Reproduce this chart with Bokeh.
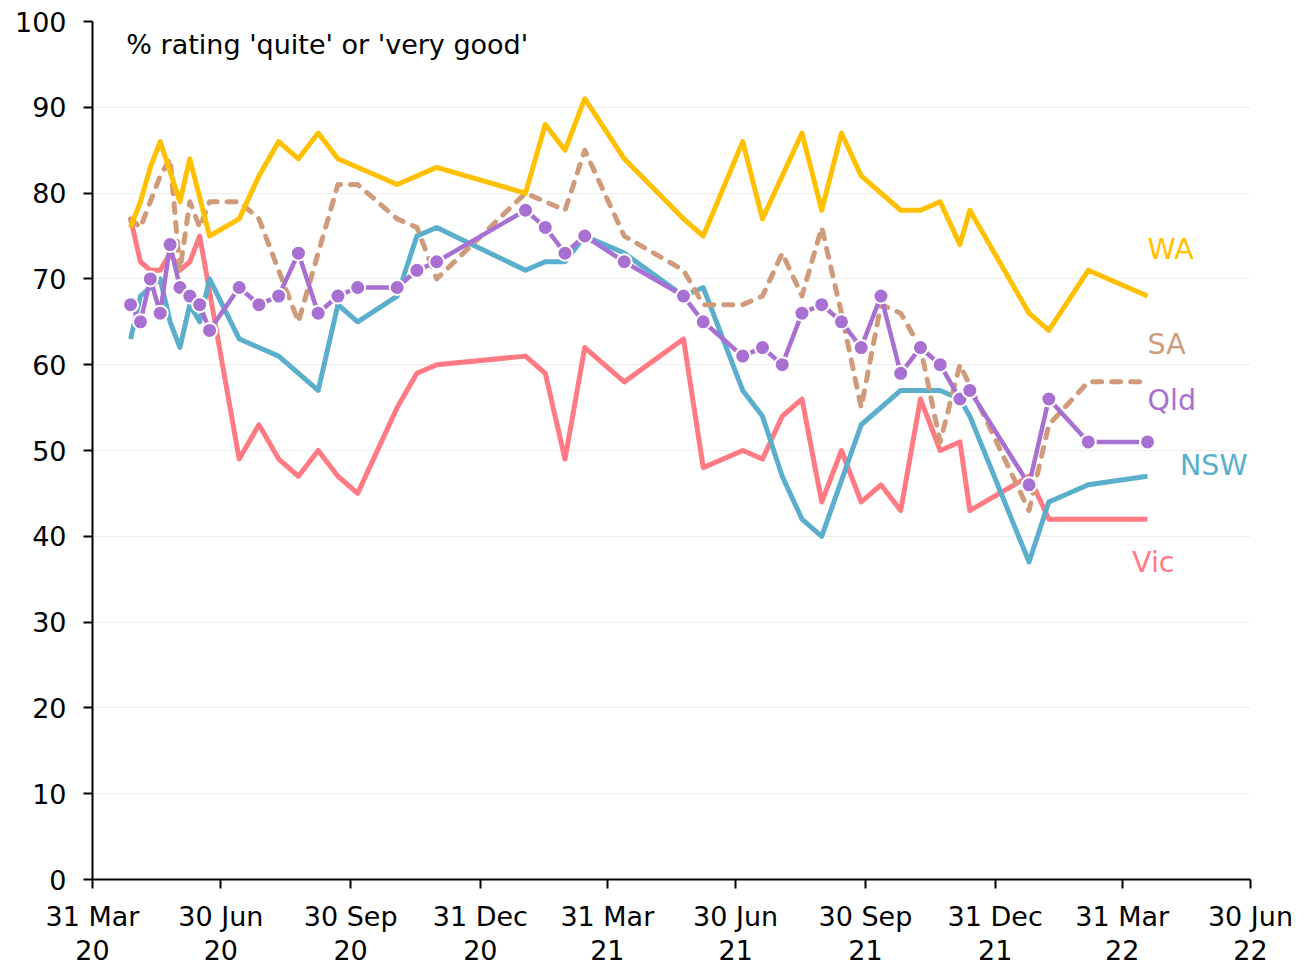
import pandas as pd
from bokeh.plotting import figure
from bokeh.models import FixedTicker, Label, Range1d
from bokeh.embed import file_html
from bokeh.resources import INLINE

FONT = "DejaVu Sans"
ORIGIN = pd.Timestamp("2020-03-31")

tick_dates = ["2020-03-31", "2020-06-30", "2020-09-30", "2020-12-31", "2021-03-31",
              "2021-06-30", "2021-09-30", "2021-12-31", "2022-03-31", "2022-06-30"]
tick_labels = ["31 Mar\n20", "30 Jun\n20", "30 Sep\n20", "31 Dec\n20", "31 Mar\n21",
               "30 Jun\n21", "30 Sep\n21", "31 Dec\n21", "31 Mar\n22", "30 Jun\n22"]

wa_dates = ["2020-04-27", "2020-05-04", "2020-05-11", "2020-05-18", "2020-06-01", "2020-06-08",
            "2020-06-22", "2020-07-13", "2020-07-27", "2020-08-10", "2020-08-24", "2020-09-07",
            "2020-09-21", "2020-11-02", "2020-11-30", "2021-02-01", "2021-02-15", "2021-03-01",
            "2021-03-15", "2021-04-12", "2021-05-24", "2021-06-07", "2021-07-05", "2021-07-19",
            "2021-08-16", "2021-08-30", "2021-09-13", "2021-09-27", "2021-10-25", "2021-11-08",
            "2021-11-22", "2021-12-06", "2021-12-13", "2022-01-24", "2022-02-07", "2022-03-07",
            "2022-04-18"]
wa_vals = [76, 79, 83, 86, 79, 84, 75, 77, 82, 86, 84, 87, 84, 81, 83, 80, 88, 85, 91, 84, 77,
           75, 86, 77, 87, 78, 87, 82, 78, 78, 79, 74, 78, 66, 64, 71, 68]

sa_dates = ["2020-04-27", "2020-05-04", "2020-05-11", "2020-05-18", "2020-05-25", "2020-06-01",
            "2020-06-08", "2020-06-15", "2020-06-22", "2020-07-13", "2020-07-27", "2020-08-10",
            "2020-08-24", "2020-09-07", "2020-09-21", "2020-10-05", "2020-11-02", "2020-11-16",
            "2020-11-30", "2021-02-01", "2021-02-15", "2021-03-01", "2021-03-15", "2021-04-12",
            "2021-05-24", "2021-06-07", "2021-07-05", "2021-07-19", "2021-08-02", "2021-08-16",
            "2021-08-30", "2021-09-13", "2021-09-27", "2021-10-11", "2021-10-25", "2021-11-08",
            "2021-11-22", "2021-12-06", "2022-01-24", "2022-02-07", "2022-03-07", "2022-04-18"]
sa_vals = [77, 76, 79, 82, 84, 71, 79, 76, 79, 79, 77, 71, 65, 73, 81, 81, 77, 76, 70, 80, 79,
           78, 85, 75, 71, 67, 67, 68, 73, 68, 76, 66, 55, 67, 66, 62, 51, 60, 43, 53, 58, 58]

qld_dates = ["2020-04-27", "2020-05-04", "2020-05-11", "2020-05-18", "2020-05-25", "2020-06-01",
             "2020-06-08", "2020-06-15", "2020-06-22", "2020-07-13", "2020-07-27", "2020-08-10",
             "2020-08-24", "2020-09-07", "2020-09-21", "2020-10-05", "2020-11-02", "2020-11-16",
             "2020-11-30", "2021-02-01", "2021-02-15", "2021-03-01", "2021-03-15", "2021-04-12",
             "2021-05-24", "2021-06-07", "2021-07-05", "2021-07-19", "2021-08-02", "2021-08-16",
             "2021-08-30", "2021-09-13", "2021-09-27", "2021-10-11", "2021-10-25", "2021-11-08",
             "2021-11-22", "2021-12-06", "2021-12-13", "2022-01-24", "2022-02-07", "2022-03-07",
             "2022-04-18"]
qld_vals = [67, 65, 70, 66, 74, 69, 68, 67, 64, 69, 67, 68, 73, 66, 68, 69, 69, 71, 72, 78, 76,
            73, 75, 72, 68, 65, 61, 62, 60, 66, 67, 65, 62, 68, 59, 62, 60, 56, 57, 46, 56, 51, 51]

nsw_dates = ["2020-04-27", "2020-05-04", "2020-05-11", "2020-05-18", "2020-05-25", "2020-06-01",
             "2020-06-08", "2020-06-15", "2020-06-22", "2020-07-13", "2020-08-10", "2020-09-07",
             "2020-09-21", "2020-10-05", "2020-11-02", "2020-11-16", "2020-11-30", "2021-02-01",
             "2021-02-15", "2021-03-01", "2021-03-15", "2021-04-12", "2021-05-24", "2021-06-07",
             "2021-07-05", "2021-07-19", "2021-08-02", "2021-08-16", "2021-08-30", "2021-09-27",
             "2021-10-25", "2021-11-22", "2021-12-06", "2021-12-13", "2022-01-24", "2022-02-07",
             "2022-03-07", "2022-04-18"]
nsw_vals = [63, 68, 69, 70, 65, 62, 67, 65, 70, 63, 61, 57, 67, 65, 68, 75, 76, 71, 72, 72, 75,
            73, 68, 69, 57, 54, 47, 42, 40, 53, 57, 57, 56, 54, 37, 44, 46, 47]

vic_dates = ["2020-04-27", "2020-05-04", "2020-05-11", "2020-05-18", "2020-05-25", "2020-06-01",
             "2020-06-08", "2020-06-15", "2020-07-13", "2020-07-27", "2020-08-10", "2020-08-24",
             "2020-09-07", "2020-09-21", "2020-10-05", "2020-11-02", "2020-11-16", "2020-11-30",
             "2021-02-01", "2021-02-15", "2021-03-01", "2021-03-15", "2021-04-12", "2021-05-24",
             "2021-06-07", "2021-07-05", "2021-07-19", "2021-08-02", "2021-08-16", "2021-08-30",
             "2021-09-13", "2021-09-27", "2021-10-11", "2021-10-25", "2021-11-08", "2021-11-22",
             "2021-12-06", "2021-12-13", "2022-01-24", "2022-02-07", "2022-03-07", "2022-04-18"]
vic_vals = [77, 72, 71, 71, 73, 71, 72, 75, 49, 53, 49, 47, 50, 47, 45, 55, 59, 60, 61, 59, 49,
            62, 58, 63, 48, 50, 49, 54, 56, 44, 50, 44, 46, 43, 56, 50, 51, 43, 47, 42, 42, 42]

series_names = ["WA", "SA", "Qld", "NSW", "Vic"]


def days(ds):
    return [(pd.Timestamp(d) - ORIGIN).days for d in ds]


C_WA = "#FFC000"
C_SA = "#D09B7B"
C_QLD = "#A970D4"
C_NSW = "#5BAFCD"
C_VIC = "#FF7A82"

p = figure(frame_width=1158, frame_height=858, output_backend="svg", toolbar_location=None,
           x_range=Range1d(0, 821), y_range=Range1d(0, 100),
           min_border_left=92, min_border_right=45, min_border_top=21, min_border_bottom=10)
p.outline_line_color = None
p.background_fill_color = "white"
p.border_fill_color = "white"

p.line(days(vic_dates), vic_vals, line_color=C_VIC, line_width=5, line_join="round")
p.line(days(nsw_dates), nsw_vals, line_color=C_NSW, line_width=5, line_join="round")
p.line(days(sa_dates), sa_vals, line_color=C_SA, line_width=5, line_dash="9 10",
       line_cap="round", line_join="round")
p.line(days(qld_dates), qld_vals, line_color=C_QLD, line_width=4.5, line_join="round")
p.scatter(days(qld_dates), qld_vals, size=15, fill_color=C_QLD, line_color="white", line_width=2)
p.line(days(wa_dates), wa_vals, line_color=C_WA, line_width=5, line_join="round")

tick_days = days(tick_dates)
p.xaxis.ticker = FixedTicker(ticks=tick_days)
p.xaxis.major_label_overrides = {d: lab for d, lab in zip(tick_days, tick_labels)}
p.yaxis.ticker = FixedTicker(ticks=list(range(0, 101, 10)))
for ax in (p.xaxis, p.yaxis):
    ax.axis_line_color = "black"
    ax.axis_line_width = 2
    ax.major_tick_line_color = "black"
    ax.major_tick_line_width = 2
    ax.major_tick_out = 9
    ax.major_tick_in = 0
    ax.minor_tick_line_color = None
    ax.major_label_text_font = FONT
    ax.major_label_text_font_size = "27px"
    ax.major_label_text_color = "black"
p.xaxis.major_label_standoff = 12
p.xaxis.major_label_text_line_height = 1.1
p.yaxis.major_label_standoff = 17

p.xgrid.grid_line_color = None
p.ygrid.ticker = FixedTicker(ticks=list(range(10, 100, 10)))
p.ygrid.grid_line_color = "#EDEDED"
p.ygrid.grid_line_width = 1

p.add_layout(Label(x=24, y=97.3, text="% rating 'quite' or 'very good'", text_font=FONT,
                   text_font_size="27px", text_color="black", text_baseline="middle"))

label_pos = {"WA": (748, 73.4, C_WA), "SA": (748, 62.4, C_SA), "Qld": (748, 55.8, C_QLD),
             "NSW": (771, 48.3, C_NSW), "Vic": (737, 36.9, C_VIC)}
for name in series_names:
    x, y, c = label_pos[name]
    p.add_layout(Label(x=x, y=y, text=name, text_font=FONT, text_font_size="28.5px",
                       text_color=c, text_baseline="middle", text_align="left"))

open("out.html", "w").write(file_html(p, INLINE))
